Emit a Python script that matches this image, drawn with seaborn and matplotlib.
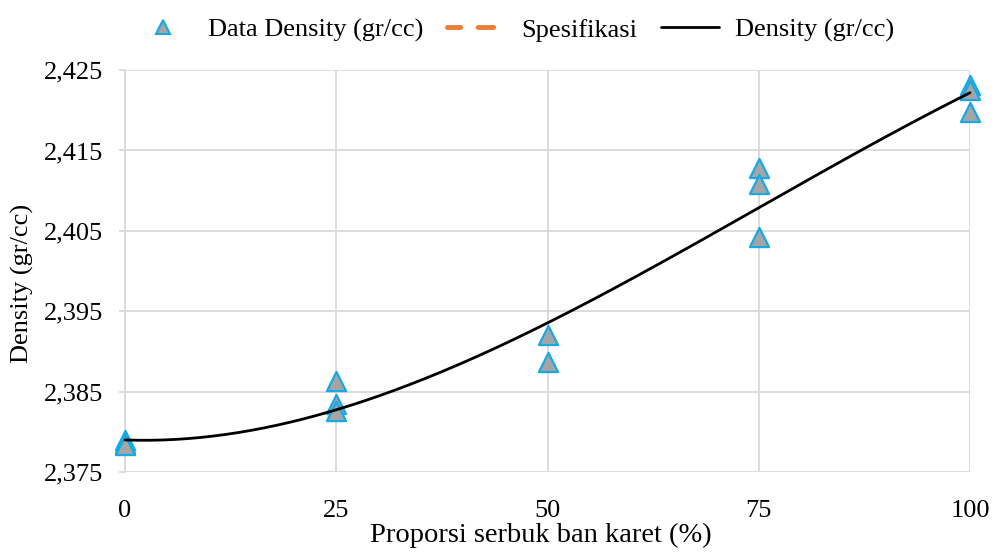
import numpy as np
import pandas as pd
import matplotlib
matplotlib.use("Agg")
import matplotlib.pyplot as plt
import seaborn as sns
from matplotlib.lines import Line2D
from matplotlib.ticker import FuncFormatter

proporsi = [0, 0, 0, 25, 25, 25, 50, 50, 75, 75, 75, 100, 100, 100]
density = [2.3790, 2.3786, 2.3783, 2.3863, 2.3835, 2.3826, 2.3921, 2.3887,
           2.4128, 2.4108, 2.4042, 2.4232, 2.4225, 2.4198]
x_ticks = [0, 25, 50, 75, 100]
y_ticks = [2.375, 2.385, 2.395, 2.405, 2.415, 2.425]

df = pd.DataFrame({"x": proporsi, "y": density})
coef = np.polyfit(proporsi, density, 3)
xs = np.linspace(0, 100, 201)
trend = pd.DataFrame({"x": xs, "y": np.polyval(coef, xs)})

sns.set_theme(style="white")
plt.rcParams["font.family"] = ["Liberation Serif", "DejaVu Serif"]
plt.rcParams["text.color"] = "black"
plt.rcParams["axes.labelcolor"] = "black"
plt.rcParams["xtick.color"] = "black"
plt.rcParams["ytick.color"] = "black"

fig = plt.figure(figsize=(10, 5.52), dpi=100)
ax = fig.add_axes([0.125, 0.145, 0.845, 0.728])

grid_c = "#d9d9d9"
fs = 19
ax.set_xlim(0, 100)
ax.set_ylim(2.375, 2.425)
ax.set_xticks(x_ticks)
ax.set_yticks(y_ticks)
ax.grid(True, color=grid_c, lw=1.3)
ax.set_axisbelow(True)
for s in ["top", "right", "bottom"]:
    ax.spines[s].set_visible(False)
ax.spines["left"].set_color(grid_c)
ax.spines["left"].set_linewidth(1.3)
ax.tick_params(axis="y", which="both", left=True, length=4, color=grid_c, width=1.3,
               labelsize=fs, labelcolor="black", pad=12)
ax.tick_params(axis="x", bottom=False, labelsize=fs, labelcolor="black", pad=14)
ax.yaxis.set_major_formatter(FuncFormatter(lambda v, p: f"{v:.3f}".replace(".", ",")))

sns.lineplot(data=trend, x="x", y="y", ax=ax, color="black", lw=2, zorder=4, clip_on=False)
sns.scatterplot(data=df, x="x", y="y", ax=ax, marker="^", s=190, color="#a5a5a5",
                edgecolor="#16a9e6", linewidth=1.6, zorder=3, clip_on=False)

ax.set_xlabel("Proporsi serbuk ban karet (%)", fontsize=20.5, labelpad=1, color="black", x=0.492)
ax.set_ylabel("Density (gr/cc)", fontsize=fs, color="black")
ax.yaxis.set_label_coords(-0.108, 0.468)

handles = [
    Line2D([], [], ls="none", marker="^", ms=10, mfc="#a5a5a5", mec="#16a9e6", mew=1.5),
    Line2D([], [], color="#ed7d31", lw=3.5, ls=(0.5, (3.2, 3.6)), dash_capstyle="round"),
    Line2D([], [], color="black", lw=2),
]
labels = ["Data Density (gr/cc)", "Spesifikasi", "Density (gr/cc)"]
fig.legend(handles, labels, loc="upper center", bbox_to_anchor=(0.514, 1.01), ncol=3,
           frameon=False, fontsize=fs, handlelength=2.2, columnspacing=0.9, handletextpad=0.6)

fig.savefig("out.png", dpi=100)
